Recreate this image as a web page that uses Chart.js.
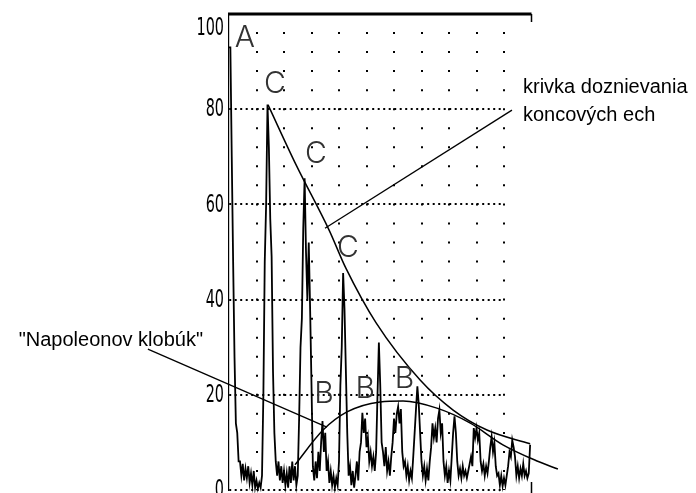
<!DOCTYPE html>
<html>
<head>
<meta charset="utf-8">
<script src="https://cdn.jsdelivr.net/npm/chart.js@4.4.1/dist/chart.umd.min.js"></script>
<style>
  body { margin: 0; background: #fff; }
  #wrap { width: 696px; height: 493px; position: relative; }
</style>
</head>
<body>
<div id="wrap"><canvas id="scan"></canvas></div>
<script>
// echo trace, one value every 0.5 screen units, in % of screen height
const traceStep = 0.5;
const traceValues = [
  93, 93, 70, 48, 28, 14, 12, 6, 6, 3,
  5.5, 2, 4.5, 2.5, 5, 1.5, 3.5, 1, 4, 0.5,
  2, 0.3, 1.5, 0.5, 3, 20, 48, 60, 81, 72,
  57, 49, 25, 12, 6, 3, 6, 2, 5, 1.5,
  4, 1, 3.5, 0.5, 5, 1.5, 6, 2, 5, 1,
  3, 15, 30, 36, 55, 65.5, 50, 40, 52, 38,
  22, 5, 2, 6, 2.5, 8, 4, 10, 14.5, 8,
  12, 4, 6, 1.5, 4, 1, 3, 0.5, 2.5, 1,
  6, 22, 30, 45.6, 38, 25, 12, 3, 5, 1,
  4, 0.5, 3, 6, 2, 8, 10, 16.2, 12, 15,
  9, 11, 6, 8, 5, 7, 4, 8, 20, 31,
  22, 10, 8, 5, 9, 4, 6, 3, 7, 10,
  15, 12, 16, 17.5, 14, 17, 8, 5, 6, 3,
  5, 2, 4, 2.5, 7, 12, 17, 21.8, 18, 12,
  6, 3, 5, 2, 4.5, 2, 6, 9, 14, 11,
  13, 10, 15, 16.8, 12, 14, 6, 3, 5, 1.5,
  4, 2, 7, 12, 15.5, 12, 6, 3, 4.5, 2.5,
  5, 3, 4, 2.5, 4, 5.5, 7, 5, 13, 11,
  13, 10.5, 12, 6, 4, 5.5, 3, 5, 3.5, 6,
  9, 11.2, 8, 10, 5, 3, 3.5, 1, 3, 0.8,
  2.5, 1, 3, 5, 8, 7, 10.5, 9, 7, 3,
  5, 2.5, 4.5, 3, 5.5, 3, 4, 2.5, 3.5, 9.5
];

// decay curve of the end echoes
const decayX = [14.2, 24.4, 36.4, 42.5, 53.5, 69.5, 81.5, 93.8, 109.5];
const decayY = [80.9, 68.3, 54.6, 46.6, 35.1, 23.1, 16.8, 12.6, 9.7];

// "Napoleon hat" envelope
const hatX = [24.0, 34.2, 42.9, 54.9, 63.3, 75.6, 87.6, 99.6, 112.0, 119.6];
const hatY = [5.3, 12.6, 16.4, 18.5, 18.7, 17.2, 14.1, 9.5, 6.1, 4.4];

// leader lines from the notes to the curves
const decayLeaderX = [102.9, 34.9];
const decayLeaderY = [79.8, 55.0];
const hatLeaderX = [-29.5, 35.6];
const hatLeaderY = [29.6, 13.2];

// echo letters and where they sit
const echoLetters = ['A', 'C', 'C', 'C', 'B', 'B', 'B'];
const echoLetterX = [5.8, 16.7, 31.6, 43.2, 34.5, 49.5, 63.8];
const echoLetterY = [95.0, 85.3, 70.6, 50.8, 20.2, 21.2, 23.3];

const decayNote = ['krivka doznievania', 'koncových ech'];
const decayNoteX = 106.9;
const decayNoteY = [83.4, 77.5];
const hatNote = '"Napoleonov klobúk"';
const hatNoteX = -9.45;
const hatNoteY = 30.3;

const yTicks = [0, 20, 40, 60, 80, 100];
const yTickLabels = ['0', '20', '40', '60', '80', '100'];
const gridEnd = 100;     // dotted grid stops here
const screenEnd = 110;   // trace and top frame go on to here

function toPoints(xs, ys) {
  return xs.map((x, i) => ({x: x, y: ys[i]}));
}

const tracePoints = traceValues.map((v, i) => ({x: i * traceStep, y: v}));

const overlayPlugin = {
  id: 'overlay',
  afterDatasetsDraw(chart) {
    const {ctx, scales: {x, y}} = chart;
    ctx.save();

    // thick top frame with the short end ticks
    ctx.strokeStyle = '#000';
    ctx.lineWidth = 3;
    ctx.beginPath();
    ctx.moveTo(x.getPixelForValue(0) - 1, y.getPixelForValue(100));
    ctx.lineTo(x.getPixelForValue(screenEnd), y.getPixelForValue(100));
    ctx.stroke();
    ctx.lineWidth = 1.5;
    ctx.beginPath();
    ctx.moveTo(x.getPixelForValue(screenEnd), y.getPixelForValue(100));
    ctx.lineTo(x.getPixelForValue(screenEnd), y.getPixelForValue(98.3));
    ctx.moveTo(x.getPixelForValue(screenEnd), y.getPixelForValue(1.7));
    ctx.lineTo(x.getPixelForValue(screenEnd), chart.height);
    ctx.stroke();

    // y labels: tall narrow digits like the scope screen
    ctx.fillStyle = '#000';
    ctx.font = '24px "DejaVu Sans", sans-serif';
    ctx.textAlign = 'right';
    ctx.textBaseline = 'middle';
    yTicks.forEach((v, i) => {
      let py = y.getPixelForValue(v);
      if (v === 100) py += 14; // top label sits under the frame
      ctx.save();
      ctx.translate(x.left - 5, py + 1);
      ctx.scale(0.6, 1);
      ctx.fillText(yTickLabels[i], 0, 0);
      ctx.restore();
    });

    // echo letters
    ctx.fillStyle = '#333';
    ctx.font = '300 30px Inter, "Liberation Sans", sans-serif';
    ctx.textAlign = 'center';
    ctx.textBaseline = 'middle';
    echoLetters.forEach((t, i) => {
      ctx.fillText(t, x.getPixelForValue(echoLetterX[i]), y.getPixelForValue(echoLetterY[i]));
    });

    // notes
    ctx.fillStyle = '#000';
    ctx.font = '20px "Liberation Sans", Arial, sans-serif';
    ctx.textBaseline = 'alphabetic';
    ctx.textAlign = 'left';
    decayNote.forEach((t, i) => {
      ctx.fillText(t, x.getPixelForValue(decayNoteX), y.getPixelForValue(decayNoteY[i]));
    });
    ctx.textAlign = 'right';
    ctx.fillText(hatNote, x.getPixelForValue(hatNoteX), y.getPixelForValue(hatNoteY));

    ctx.restore();
  }
};

function lineSet(data, width, smooth) {
  return {
    data: data,
    borderColor: '#000',
    borderWidth: width,
    pointRadius: 0,
    fill: false,
    clip: false,
    cubicInterpolationMode: smooth ? 'monotone' : 'default',
    tension: 0
  };
}

new Chart(document.getElementById('scan'), {
  type: 'line',
  data: {
    datasets: [
      lineSet(tracePoints, 1.8, false),
      lineSet(toPoints(decayX, decayY), 1.5, true),
      lineSet(toPoints(hatX, hatY), 1.5, true),
      lineSet(toPoints(decayLeaderX, decayLeaderY), 1.3, false),
      lineSet(toPoints(hatLeaderX, hatLeaderY), 1.3, false)
    ]
  },
  options: {
    responsive: true,
    maintainAspectRatio: false,
    animation: false,
    events: [],
    layout: {
      padding: {left: 0, right: 192, top: 14, bottom: 0}
    },
    plugins: {
      legend: {display: false},
      tooltip: {enabled: false}
    },
    scales: {
      x: {
        type: 'linear',
        afterDataLimits(scale) {
          // fixed range without user bounds, so points past the grid still draw
          scale.min = 0;
          scale.max = gridEnd;
        },
        afterFit(scale) {
          scale.height = 3;
          scale.paddingLeft = 0;
          scale.paddingRight = 0;
        },
        ticks: {display: false, stepSize: 10},
        border: {display: false, dash: [2, 17.04], dashOffset: 1},
        grid: {
          drawTicks: false,
          lineWidth: 2,
          color: (c) => (c.tick && c.tick.value === 0 ? 'rgba(0,0,0,0)' : '#000')
        }
      },
      y: {
        min: 0,
        max: 100,
        afterFit(scale) {
          scale.width = 229;
          scale.paddingTop = 0;
          scale.paddingBottom = 0;
        },
        afterBuildTicks(scale) {
          scale.ticks = yTicks.map(v => ({value: v}));
        },
        ticks: {display: false},
        border: {display: true, color: '#000', width: 1.2, dash: [2, 3.5]},
        grid: {
          drawTicks: false,
          lineWidth: 2,
          color: (c) => (c.tick && c.tick.value === 100 ? 'rgba(0,0,0,0)' : '#000')
        }
      }
    }
  },
  plugins: [overlayPlugin]
});
</script>
</body>
</html>
